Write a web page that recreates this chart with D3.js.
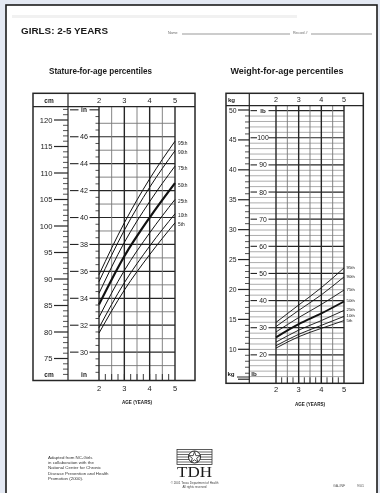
<!DOCTYPE html>
<html><head><meta charset="utf-8">
<script src="https://cdn.jsdelivr.net/npm/d3@7"></script>
<style>
html,body{margin:0;padding:0;background:#e4e9f3;}
svg{display:block;filter:grayscale(1);}
text{font-family:"Liberation Sans",Arial,sans-serif;fill:#1a1a1a;}
</style></head>
<body>
<svg id="c" width="380" height="493"></svg>
<script>
// ---------- DATA ----------
const ages = [2, 3, 4, 5];
const percentileLabels = ["95th", "90th", "75th", "50th", "25th", "10th", "5th"];
// Stature-for-age (cm)
const stature95 = [90.8, 100.6, 108.9, 116.0];
const stature90 = [89.5, 99.2, 107.3, 114.2];
const stature75 = [87.3, 96.9, 104.6, 111.3];
const stature50 = [85.2, 94.3, 101.6, 108.1];
const stature25 = [82.8, 91.6, 98.7, 105.0];
const stature10 = [80.8, 89.3, 96.2, 102.3];
const stature5  = [79.8, 87.9, 94.6, 100.6];
// Weight-for-age (kg)
const weight95 = [14.5, 17.4, 20.3, 23.6];
const weight90 = [13.8, 16.5, 19.1, 22.1];
const weight75 = [12.9, 15.3, 17.5, 19.9];
const weight50 = [12.0, 14.2, 16.0, 18.0];
const weight25 = [11.2, 13.2, 14.8, 16.5];
const weight10 = [10.6, 12.5, 14.0, 15.5];
const weight5  = [10.2, 12.1, 13.5, 14.8];
// tick labels
const cmTicks = [75, 80, 85, 90, 95, 100, 105, 110, 115, 120];
const inTicks = [30, 32, 34, 36, 38, 40, 42, 44, 46];
const kgTicks = [10, 15, 20, 25, 30, 35, 40, 45, 50];
const lbTicks = [20, 30, 40, 50, 60, 70, 80, 90, 100];

const statureSeries = [stature95, stature90, stature75, stature50, stature25, stature10, stature5];
const weightSeries = [weight95, weight90, weight75, weight50, weight25, weight10, weight5];

const svg = d3.select("#c");

// page
svg.append("rect").attr("x", 6).attr("y", 5).attr("width", 371).attr("height", 500)
  .attr("fill", "#fff").attr("stroke", "#1c1c1c").attr("stroke-width", 1.6);
svg.append("rect").attr("x", 12).attr("y", 15).attr("width", 285).attr("height", 3).attr("fill", "#f1f1f1");

// header
svg.append("text").attr("x", 21).attr("y", 34).attr("font-size", 8.5).attr("font-weight", "bold")
  .attr("textLength", 87).attr("lengthAdjust", "spacingAndGlyphs").text("GIRLS: 2-5 YEARS");
svg.append("text").attr("x", 168).attr("y", 33.5).attr("font-size", 3.6).style("fill", "#666").text("Name");
svg.append("line").attr("x1", 182).attr("x2", 290).attr("y1", 34).attr("y2", 34).attr("stroke", "#555").attr("stroke-width", 0.6);
svg.append("text").attr("x", 293).attr("y", 33.5).attr("font-size", 3.6).style("fill", "#666").text("Record #");
svg.append("line").attr("x1", 311).attr("x2", 372).attr("y1", 34).attr("y2", 34).attr("stroke", "#555").attr("stroke-width", 0.6);

svg.append("text").attr("x", 100.5).attr("y", 74).attr("font-size", 9.8).attr("font-weight", "bold")
  .attr("text-anchor", "middle").attr("textLength", 103).attr("lengthAdjust", "spacingAndGlyphs")
  .text("Stature-for-age percentiles");
svg.append("text").attr("x", 287).attr("y", 74).attr("font-size", 9.8).attr("font-weight", "bold")
  .attr("text-anchor", "middle").attr("textLength", 113).attr("lengthAdjust", "spacingAndGlyphs")
  .text("Weight-for-age percentiles");

const dark = "#262626";

// ================= STATURE CHART =================
(function () {
  const L = 33, R = 195, Tp = 93.3, HB = 106.7, B = 380.5, C1 = 68, C2 = 99, GR = 175;
  const x = d3.scaleLinear().domain([2, 5]).range([C2, GR]);
  const y = d3.scaleLinear().domain([75, 120]).range([358.5, 120]);
  const g = svg.append("g");

  for (let i = 29; i <= 47; i++) {
    const yy = y(i * 2.54);
    const even = i % 2 === 0;
    g.append("line").attr("x1", C2).attr("x2", GR).attr("y1", yy).attr("y2", yy)
      .attr("stroke", even ? dark : "#666").attr("stroke-width", even ? 1.2 : 0.8);
  }
  for (let i = 28.5; i <= 47.5; i += 0.5) {
    const yy = y(i * 2.54);
    if (yy < HB + 1 || yy > B - 1) continue;
    if (Number.isInteger(i) && i % 2 === 0) continue;
    g.append("line").attr("x1", 95.5).attr("x2", C2).attr("y1", yy).attr("y2", yy)
      .attr("stroke", dark).attr("stroke-width", 0.8);
  }
  inTicks.forEach(v => {
    const yy = y(v * 2.54);
    g.append("line").attr("x1", 70).attr("x2", 78.5).attr("y1", yy).attr("y2", yy).attr("stroke", dark).attr("stroke-width", 1.1);
    g.append("line").attr("x1", 89.5).attr("x2", C2).attr("y1", yy).attr("y2", yy).attr("stroke", dark).attr("stroke-width", 1.1);
    g.append("text").attr("x", 84).attr("y", yy + 2.6).attr("font-size", 7.2).attr("text-anchor", "middle").text(v);
  });
  const yin = y(48 * 2.54);
  g.append("line").attr("x1", 70).attr("x2", 78.5).attr("y1", yin).attr("y2", yin).attr("stroke", dark).attr("stroke-width", 1.1);
  g.append("line").attr("x1", 89.5).attr("x2", C2).attr("y1", yin).attr("y2", yin).attr("stroke", dark).attr("stroke-width", 1.1);
  g.append("text").attr("x", 84).attr("y", yin + 2.4).attr("font-size", 6.5).attr("font-weight", "bold").attr("text-anchor", "middle").text("in");

  for (let a = 2; a <= 5.001; a += 0.5) {
    const whole = Math.abs(a - Math.round(a)) < 0.01;
    g.append("line").attr("x1", x(a)).attr("x2", x(a)).attr("y1", HB).attr("y2", B)
      .attr("stroke", whole ? dark : "#777").attr("stroke-width", whole ? 1.4 : 0.9);
  }
  for (let a = 2.25; a < 5; a += 0.25) {
    g.append("line").attr("x1", x(a)).attr("x2", x(a)).attr("y1", B - 6.5).attr("y2", B)
      .attr("stroke", dark).attr("stroke-width", 0.9);
  }

  for (let c = 72; c <= 122; c++) {
    const yy = y(c);
    if (yy < HB + 1 || yy > B - 3) continue;
    g.append("line").attr("x1", c % 5 === 0 ? 54 : 63).attr("x2", C1).attr("y1", yy).attr("y2", yy)
      .attr("stroke", dark).attr("stroke-width", c % 5 === 0 ? 1.2 : 0.8);
  }
  cmTicks.forEach(v => {
    g.append("text").attr("x", 52.5).attr("y", y(v) + 2.7).attr("font-size", 7.6).attr("text-anchor", "end").text(v);
  });

  g.append("rect").attr("x", L).attr("y", Tp).attr("width", R - L).attr("height", B - Tp)
    .attr("fill", "none").attr("stroke", dark).attr("stroke-width", 1.5);
  g.append("line").attr("x1", L).attr("x2", R).attr("y1", HB).attr("y2", HB).attr("stroke", dark).attr("stroke-width", 1.2);
  g.append("line").attr("x1", C1).attr("x2", C1).attr("y1", Tp).attr("y2", B).attr("stroke", dark).attr("stroke-width", 1.2);

  g.append("text").attr("x", 49).attr("y", 102.5).attr("font-size", 6.5).attr("font-weight", "bold").attr("text-anchor", "middle").text("cm");
  ages.forEach(a => g.append("text").attr("x", x(a)).attr("y", 102.8).attr("font-size", 7.5).attr("text-anchor", "middle").text(a));
  g.append("text").attr("x", 49).attr("y", 376.5).attr("font-size", 6.5).attr("font-weight", "bold").attr("text-anchor", "middle").text("cm");
  g.append("text").attr("x", 84).attr("y", 376.5).attr("font-size", 6.5).attr("font-weight", "bold").attr("text-anchor", "middle").text("in");
  ages.forEach(a => g.append("text").attr("x", x(a)).attr("y", 391).attr("font-size", 7.5).attr("text-anchor", "middle").text(a));
  g.append("text").attr("x", 137).attr("y", 404).attr("font-size", 4.6).attr("font-weight", "bold").attr("text-anchor", "middle").text("AGE (YEARS)");

  const line = d3.line().x((d, i) => x(ages[i])).y(d => y(d)).curve(d3.curveMonotoneX);
  statureSeries.forEach((s, k) => {
    g.append("path").attr("d", line(s)).attr("fill", "none").attr("stroke", "#111")
      .attr("stroke-width", k === 3 ? 2.2 : 1);
    g.append("text").attr("x", GR + 3).attr("y", y(s[3]) + 3.5).attr("font-size", 4.8).text(percentileLabels[k]);
  });
})();

// ================= WEIGHT CHART =================
(function () {
  const L = 226, R = 363.3, Tp = 93.3, HB = 105.7, B = 383.3, C1 = 249.3, C2 = 276, GR = 344;
  const x = d3.scaleLinear().domain([2, 5]).range([C2, GR]);
  const y = d3.scaleLinear().domain([10, 50]).range([349.3, 110]);
  const g = svg.append("g");
  const kg = lb => lb * 0.45359237;

  for (let lb = 12; lb <= 110; lb += 2) {
    const yy = y(kg(lb));
    if (yy < HB + 1) continue;
    const ten = lb % 10 === 0;
    g.append("line").attr("x1", ten ? C2 : C1).attr("x2", GR).attr("y1", yy).attr("y2", yy)
      .attr("stroke", ten ? dark : "#8a8a8a").attr("stroke-width", ten ? 1.2 : 0.7);
  }
  lbTicks.forEach(v => {
    const yy = y(kg(v));
    g.append("line").attr("x1", 250.5).attr("x2", 257).attr("y1", yy).attr("y2", yy).attr("stroke", dark).attr("stroke-width", 1.1);
    g.append("line").attr("x1", 268.5).attr("x2", C2).attr("y1", yy).attr("y2", yy).attr("stroke", dark).attr("stroke-width", 1.1);
    g.append("text").attr("x", 263).attr("y", yy + 2.5).attr("font-size", 6.8).attr("text-anchor", "middle").text(v);
  });
  const ylb = y(kg(110));
  g.append("line").attr("x1", 250.5).attr("x2", 257).attr("y1", ylb).attr("y2", ylb).attr("stroke", dark).attr("stroke-width", 1.1);
  g.append("line").attr("x1", 268.5).attr("x2", C2).attr("y1", ylb).attr("y2", ylb).attr("stroke", dark).attr("stroke-width", 1.1);
  g.append("text").attr("x", 263).attr("y", ylb + 2.3).attr("font-size", 6.2).attr("font-weight", "bold").attr("text-anchor", "middle").text("lb");

  for (let a = 2; a <= 5.001; a += 0.5) {
    const whole = Math.abs(a - Math.round(a)) < 0.01;
    g.append("line").attr("x1", x(a)).attr("x2", x(a)).attr("y1", HB).attr("y2", B)
      .attr("stroke", whole ? dark : "#777").attr("stroke-width", whole ? 1.4 : 0.9);
  }
  for (let a = 2.25; a < 5; a += 0.25) {
    g.append("line").attr("x1", x(a)).attr("x2", x(a)).attr("y1", B - 6).attr("y2", B)
      .attr("stroke", dark).attr("stroke-width", 0.9);
  }

  for (let k = 5; k <= 50; k++) {
    const yy = y(k);
    if (yy < HB + 1 || yy > B - 4) continue;
    g.append("line").attr("x1", k % 5 === 0 ? 238 : 245).attr("x2", C1).attr("y1", yy).attr("y2", yy)
      .attr("stroke", dark).attr("stroke-width", k % 5 === 0 ? 1.2 : 0.8);
  }
  kgTicks.forEach(v => {
    g.append("text").attr("x", 236.5).attr("y", y(v) + 2.5).attr("font-size", 6.8).attr("text-anchor", "end").text(v);
  });

  g.append("rect").attr("x", L).attr("y", Tp).attr("width", R - L).attr("height", B - Tp)
    .attr("fill", "none").attr("stroke", dark).attr("stroke-width", 1.5);
  g.append("line").attr("x1", L).attr("x2", R).attr("y1", HB).attr("y2", HB).attr("stroke", dark).attr("stroke-width", 1.2);
  g.append("line").attr("x1", C1).attr("x2", C1).attr("y1", Tp).attr("y2", B).attr("stroke", dark).attr("stroke-width", 1.2);

  g.append("text").attr("x", 231.5).attr("y", 102).attr("font-size", 6.2).attr("font-weight", "bold").attr("text-anchor", "middle").text("kg");
  ages.forEach(a => g.append("text").attr("x", x(a)).attr("y", 102).attr("font-size", 7.2).attr("text-anchor", "middle").text(a));
  g.append("text").attr("x", 231).attr("y", 375.5).attr("font-size", 6.2).attr("font-weight", "bold").attr("text-anchor", "middle").text("kg");
  g.append("line").attr("x1", 237).attr("x2", C1).attr("y1", 377).attr("y2", 377).attr("stroke", dark).attr("stroke-width", 1);
  g.append("text").attr("x", 254).attr("y", 375.5).attr("font-size", 6.2).attr("font-weight", "bold").attr("text-anchor", "middle").text("lb");
  ages.forEach(a => g.append("text").attr("x", x(a)).attr("y", 392).attr("font-size", 7.5).attr("text-anchor", "middle").text(a));
  g.append("text").attr("x", 310).attr("y", 406).attr("font-size", 4.6).attr("font-weight", "bold").attr("text-anchor", "middle").text("AGE (YEARS)");

  const line = d3.line().x((d, i) => x(ages[i])).y(d => y(d)).curve(d3.curveMonotoneX);
  weightSeries.forEach((s, k) => {
    g.append("path").attr("d", line(s)).attr("fill", "none").attr("stroke", "#111")
      .attr("stroke-width", k === 3 ? 1.9 : 0.9);
    g.append("text").attr("x", GR + 2.5).attr("y", y(s[3]) + 1).attr("font-size", 4.3).text(percentileLabels[k]);
  });
})();

// ================= FOOTER =================
const foot = ["Adapted from NC-Girls", "in collaboration with the", "National Center for Chronic",
  "Disease Prevention and Health", "Promotion (2000)."];
foot.forEach((t, i) => svg.append("text").attr("x", 48).attr("y", 459 + i * 5.2).attr("font-size", 4.4).style("fill", "#333").text(t));

const lg = svg.append("g");
lg.append("rect").attr("x", 177).attr("y", 449.5).attr("width", 35).attr("height", 15).attr("fill", "#fff").attr("stroke", "#333").attr("stroke-width", 0.8);
for (let i = 1; i < 6; i++) lg.append("line").attr("x1", 177).attr("x2", 212).attr("y1", 449.5 + i * 2.5).attr("y2", 449.5 + i * 2.5).attr("stroke", "#444").attr("stroke-width", 0.8);
lg.append("circle").attr("cx", 194.5).attr("cy", 457).attr("r", 6).attr("fill", "#fff").attr("stroke", "#222").attr("stroke-width", 1);
lg.append("path").attr("d", d3.symbol().type(d3.symbolStar).size(40)()).attr("transform", "translate(194.5,457.5)")
  .attr("fill", "#fff").attr("stroke", "#222").attr("stroke-width", 0.8);
lg.append("text").attr("x", 194.5).attr("y", 477).attr("font-size", 15).attr("text-anchor", "middle")
  .attr("textLength", 35).attr("lengthAdjust", "spacingAndGlyphs")
  .style("font-family", "'Liberation Serif','DejaVu Serif',serif").text("TDH");
lg.append("text").attr("x", 194.5).attr("y", 483.5).attr("font-size", 3).attr("text-anchor", "middle").style("fill", "#444").text("© 2001 Texas Department of Health");
lg.append("text").attr("x", 194.5).attr("y", 487.5).attr("font-size", 3).attr("text-anchor", "middle").style("fill", "#444").text("All rights reserved");

svg.append("text").attr("x", 333).attr("y", 486.5).attr("font-size", 3.6).style("fill", "#555").text("GA-INF");
svg.append("text").attr("x", 357).attr("y", 486.5).attr("font-size", 3.6).style("fill", "#555").text("9/01");
</script>
</body></html>
